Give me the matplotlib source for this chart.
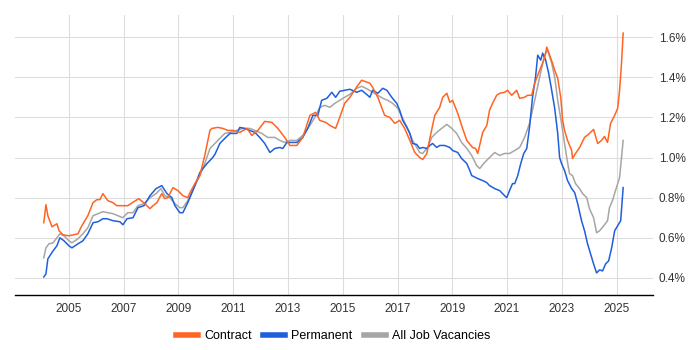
import matplotlib
matplotlib.use("Agg")
import matplotlib.pyplot as plt
from matplotlib.ticker import FuncFormatter

contract_t = [2004.08, 2004.16, 2004.23, 2004.38, 2004.56, 2004.64, 2004.78, 2005.0, 2005.33, 2005.47,
              2005.69, 2005.88, 2006.02, 2006.13, 2006.24, 2006.42, 2006.61, 2006.75, 2006.97, 2007.15,
              2007.37, 2007.55, 2007.77, 2007.96, 2008.07, 2008.21, 2008.39, 2008.50, 2008.61, 2008.80,
              2008.98, 2009.16, 2009.34, 2009.42, 2009.60, 2009.78, 2009.96, 2010.15, 2010.22, 2010.44,
              2010.62, 2010.80, 2010.99, 2011.24, 2011.50, 2011.68, 2011.90, 2012.15, 2012.41, 2012.63,
              2012.88, 2013.07, 2013.32, 2013.54, 2013.80, 2014.01, 2014.16, 2014.38, 2014.53, 2014.74,
              2014.89, 2015.07, 2015.26, 2015.55, 2015.69, 2015.99, 2016.09, 2016.28, 2016.42, 2016.53,
              2016.72, 2016.90, 2017.08, 2017.26, 2017.45, 2017.63, 2017.81, 2017.92, 2018.07, 2018.18,
              2018.36, 2018.54, 2018.65, 2018.80, 2018.91, 2019.01, 2019.20, 2019.34, 2019.53, 2019.74,
              2019.85, 2019.93, 2020.11, 2020.26, 2020.36, 2020.47, 2020.62, 2020.73, 2020.91, 2021.02,
              2021.17, 2021.35, 2021.46, 2021.64, 2021.75, 2021.90, 2022.01, 2022.19, 2022.37, 2022.45,
              2022.66, 2022.74, 2022.85, 2022.96, 2023.03, 2023.10, 2023.21, 2023.36, 2023.39, 2023.50,
              2023.65, 2023.83, 2024.01, 2024.16, 2024.31, 2024.45, 2024.56, 2024.67, 2024.78, 2024.93,
              2025.04, 2025.11, 2025.18, 2025.24]
contract_v = [0.675, 0.765, 0.71, 0.655, 0.67, 0.635, 0.615, 0.61, 0.62, 0.66,
              0.71, 0.775, 0.79, 0.79, 0.82, 0.785, 0.775, 0.76, 0.76, 0.76,
              0.78, 0.795, 0.77, 0.745, 0.76, 0.775, 0.82, 0.795, 0.80, 0.85,
              0.835, 0.81, 0.80, 0.825, 0.87, 0.91, 1.01, 1.135, 1.145, 1.15,
              1.145, 1.135, 1.135, 1.125, 1.145, 1.11, 1.135, 1.18, 1.175, 1.145,
              1.10, 1.06, 1.06, 1.10, 1.21, 1.225, 1.185, 1.175, 1.16, 1.145,
              1.20, 1.27, 1.30, 1.36, 1.385, 1.37, 1.35, 1.30, 1.25, 1.21,
              1.20, 1.17, 1.185, 1.145, 1.085, 1.025, 1.0, 0.99, 1.02, 1.095,
              1.21, 1.25, 1.30, 1.32, 1.275, 1.285, 1.22, 1.16, 1.085, 1.05,
              1.045, 1.02, 1.125, 1.16, 1.235, 1.27, 1.31, 1.32, 1.325, 1.335,
              1.31, 1.335, 1.295, 1.30, 1.31, 1.31, 1.37, 1.435, 1.495, 1.55,
              1.47, 1.435, 1.395, 1.30, 1.185, 1.135, 1.085, 1.035, 0.995, 1.02,
              1.05, 1.10, 1.12, 1.14, 1.07, 1.085, 1.105, 1.075, 1.17, 1.21,
              1.245, 1.335, 1.47, 1.62]

perm_t = [2004.08, 2004.16, 2004.23, 2004.42, 2004.56, 2004.67, 2004.82, 2005.0, 2005.11, 2005.33,
          2005.51, 2005.69, 2005.88, 2006.06, 2006.24, 2006.39, 2006.61, 2006.86, 2006.97, 2007.12,
          2007.34, 2007.52, 2007.74, 2007.96, 2008.18, 2008.39, 2008.58, 2008.76, 2008.87, 2009.05,
          2009.16, 2009.34, 2009.60, 2009.78, 2010.04, 2010.22, 2010.33, 2010.51, 2010.69, 2010.88,
          2011.13, 2011.24, 2011.42, 2011.61, 2011.79, 2011.97, 2012.15, 2012.34, 2012.52, 2012.70,
          2012.81, 2012.96, 2013.14, 2013.32, 2013.54, 2013.72, 2013.91, 2014.09, 2014.23, 2014.42,
          2014.60, 2014.74, 2014.89, 2015.07, 2015.26, 2015.51, 2015.69, 2015.91, 2015.99, 2016.09,
          2016.28, 2016.46, 2016.61, 2016.79, 2016.97, 2017.08, 2017.19, 2017.34, 2017.45, 2017.55,
          2017.70, 2017.81, 2017.92, 2018.07, 2018.18, 2018.28, 2018.43, 2018.54, 2018.72, 2018.91,
          2019.01, 2019.20, 2019.34, 2019.53, 2019.64, 2019.71, 2019.93, 2020.11, 2020.26, 2020.36,
          2020.55, 2020.73, 2020.91, 2020.99, 2021.09, 2021.20, 2021.28, 2021.39, 2021.50, 2021.61,
          2021.72, 2021.82, 2021.93, 2022.04, 2022.12, 2022.23, 2022.30, 2022.41, 2022.52, 2022.63,
          2022.74, 2022.85, 2022.92, 2022.99, 2023.10, 2023.21, 2023.36, 2023.47, 2023.58, 2023.72,
          2023.83, 2023.94, 2024.05, 2024.16, 2024.27, 2024.38, 2024.49, 2024.60, 2024.71, 2024.82,
          2024.93, 2025.04, 2025.15, 2025.24]
perm_v = [0.405, 0.42, 0.495, 0.535, 0.56, 0.60, 0.585, 0.56, 0.55, 0.57,
          0.585, 0.62, 0.675, 0.68, 0.695, 0.695, 0.685, 0.68, 0.665, 0.695,
          0.70, 0.75, 0.76, 0.81, 0.845, 0.86, 0.82, 0.80, 0.76, 0.725,
          0.725, 0.775, 0.86, 0.925, 0.97, 0.995, 1.015, 1.07, 1.095, 1.12,
          1.12, 1.15, 1.145, 1.135, 1.125, 1.10, 1.07, 1.025, 1.045, 1.05,
          1.045, 1.075, 1.075, 1.075, 1.10, 1.145, 1.21, 1.21, 1.285, 1.295,
          1.325, 1.30, 1.33, 1.335, 1.34, 1.325, 1.335, 1.31, 1.30, 1.335,
          1.32, 1.345, 1.335, 1.30, 1.27, 1.235, 1.185, 1.15, 1.12, 1.07,
          1.065, 1.045, 1.05, 1.045, 1.06, 1.07, 1.05, 1.06, 1.06, 1.05,
          1.035, 1.025, 0.995, 0.97, 0.935, 0.91, 0.895, 0.885, 0.875, 0.86,
          0.845, 0.835, 0.81, 0.80, 0.835, 0.87, 0.87, 0.91, 0.97, 1.02,
          1.045, 1.15, 1.30, 1.40, 1.51, 1.485, 1.52, 1.485, 1.42, 1.335,
          1.245, 1.12, 1.0, 0.97, 0.935, 0.885, 0.845, 0.825, 0.77, 0.685,
          0.635, 0.57, 0.52, 0.47, 0.425, 0.44, 0.435, 0.47, 0.485, 0.55,
          0.635, 0.66, 0.685, 0.85]

all_t = [2004.08, 2004.16, 2004.27, 2004.42, 2004.56, 2004.67, 2004.82, 2005.0, 2005.11, 2005.33,
         2005.51, 2005.69, 2005.88, 2006.06, 2006.24, 2006.42, 2006.61, 2006.79, 2006.97, 2007.15,
         2007.34, 2007.52, 2007.74, 2007.96, 2008.18, 2008.36, 2008.50, 2008.68, 2008.87, 2009.05,
         2009.16, 2009.34, 2009.60, 2009.78, 2009.96, 2010.15, 2010.33, 2010.51, 2010.69, 2010.88,
         2011.13, 2011.35, 2011.61, 2011.79, 2012.04, 2012.26, 2012.52, 2012.70, 2012.88, 2013.07,
         2013.32, 2013.54, 2013.80, 2013.98, 2014.16, 2014.34, 2014.53, 2014.71, 2014.89, 2015.07,
         2015.26, 2015.51, 2015.69, 2015.91, 2016.09, 2016.28, 2016.46, 2016.64, 2016.82, 2017.01,
         2017.19, 2017.37, 2017.55, 2017.70, 2017.81, 2017.92, 2018.10, 2018.25, 2018.43, 2018.61,
         2018.80, 2018.98, 2019.16, 2019.34, 2019.53, 2019.71, 2019.89, 2020.00, 2020.18, 2020.36,
         2020.55, 2020.73, 2020.91, 2021.09, 2021.28, 2021.46, 2021.64, 2021.82, 2022.01, 2022.19,
         2022.37, 2022.48, 2022.63, 2022.74, 2022.85, 2022.99, 2023.10, 2023.18, 2023.28, 2023.39,
         2023.50, 2023.65, 2023.76, 2023.91, 2024.01, 2024.16, 2024.27, 2024.38, 2024.53, 2024.67,
         2024.74, 2024.85, 2024.96, 2025.11, 2025.24]
all_v = [0.50, 0.55, 0.57, 0.575, 0.60, 0.62, 0.61, 0.585, 0.575, 0.595,
         0.62, 0.65, 0.71, 0.72, 0.73, 0.725, 0.72, 0.71, 0.70, 0.725,
         0.725, 0.76, 0.77, 0.80, 0.82, 0.845, 0.81, 0.80, 0.77, 0.75,
         0.75, 0.785, 0.86, 0.91, 0.97, 1.045, 1.07, 1.095, 1.12, 1.125,
         1.135, 1.145, 1.145, 1.135, 1.12, 1.10, 1.10, 1.085, 1.075, 1.085,
         1.085, 1.11, 1.16, 1.20, 1.25, 1.26, 1.25, 1.27, 1.285, 1.30,
         1.315, 1.345, 1.355, 1.34, 1.325, 1.31, 1.295, 1.285, 1.27, 1.245,
         1.195, 1.145, 1.085, 1.05, 1.025, 1.02, 1.05, 1.10, 1.125, 1.145,
         1.165, 1.145, 1.12, 1.075, 1.045, 1.01, 0.96, 0.945, 0.975, 1.0,
         1.025, 1.01, 1.02, 1.02, 1.035, 1.05, 1.10, 1.17, 1.285, 1.40,
         1.51, 1.535, 1.47, 1.40, 1.285, 1.17, 1.07, 1.0, 0.92, 0.91,
         0.87, 0.845, 0.82, 0.80, 0.745, 0.70, 0.625, 0.635, 0.66, 0.685,
         0.75, 0.785, 0.835, 0.90, 1.085]

year_ticks = [2005, 2007, 2009, 2011, 2013, 2015, 2017, 2019, 2021, 2023, 2025]
pct_ticks = [0.4, 0.6, 0.8, 1.0, 1.2, 1.4, 1.6]

plt.rcParams['font.family'] = ['Liberation Sans', 'DejaVu Sans']

fig = plt.figure(figsize=(7, 3.5), dpi=100)
ax = fig.add_axes([15/700, 1-295/350, (653-15)/700, (295-15)/350])

ax.plot(all_t, all_v, color='#a6a6a6', lw=1.1, label='All Job Vacancies', zorder=3)
ax.plot(perm_t, perm_v, color='#1f5fdc', lw=1.1, label='Permanent', zorder=4)
ax.plot(contract_t, contract_v, color='#ff6422', lw=1.1, label='Contract', zorder=5)

ax.set_xlim(2003.03, 2026.33)
ax.set_ylim(0.315, 1.71)
ax.set_xticks(year_ticks)
ax.set_xticklabels([str(y) for y in year_ticks])
ax.set_yticks(pct_ticks)
ax.yaxis.set_major_formatter(FuncFormatter(lambda v, p: f"{v:.1f}%"))
ax.yaxis.tick_right()
ax.tick_params(axis='both', length=0, labelsize=8.5, colors='#333333')
ax.tick_params(axis='x', pad=6)
ax.tick_params(axis='y', pad=4)
ax.grid(True, color='#dddddd', lw=0.8)
ax.set_axisbelow(True)
for s in ['top', 'left', 'right']:
    ax.spines[s].set_visible(False)
ax.spines['bottom'].set_color('#000000')
ax.spines['bottom'].set_linewidth(1.0)

h, l = ax.get_legend_handles_labels()
order = [2, 1, 0]
leg = fig.legend([h[i] for i in order], [l[i] for i in order], loc='center',
                 bbox_to_anchor=(333/700, 1-336/350), ncol=3, frameon=False,
                 fontsize=9, handlelength=1.8, handletextpad=0.45, columnspacing=0.9)
for line in leg.get_lines():
    line.set_linewidth(4)

fig.savefig('out.png', dpi=100)
